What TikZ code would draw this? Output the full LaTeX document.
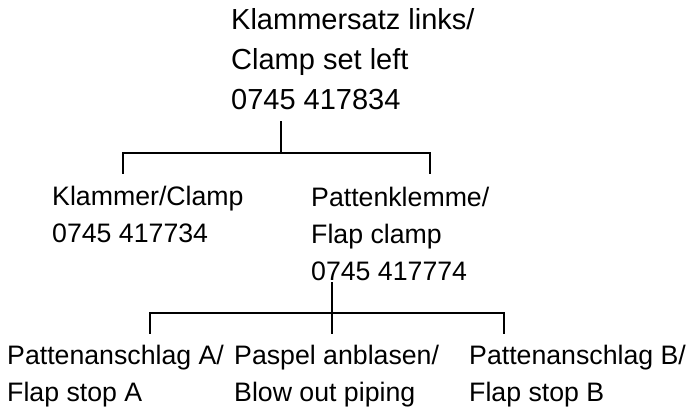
\documentclass[tikz,border=0pt]{standalone}
\usepackage{fontspec}
\setmainfont{Liberation Sans}
\usetikzlibrary{positioning}

\tikzset{
  part/.style={anchor=base west,inner sep=0pt,align=left,
    font=\fontsize{26.7}{37}\selectfont},
  toppart/.style={part,font=\fontsize{29}{40}\selectfont},
  tree/.style={line width=2.6pt,line cap=rect,line join=miter}
}

\begin{document}
\begin{tikzpicture}[x=1pt,y=1pt]
\path[use as bounding box] (0,0) rectangle (686,-409);
% parts (anchored at the last line)
\node[toppart] (set) at (231,-110) {Klammersatz links/\\Clamp set left\\0745 417834};
\node[part] (clamp) at (52,-243) {Klammer/Clamp\\0745 417734};
\node[part] (flapclamp) at (311,-280) {Pattenklemme/\\Flap clamp\\0745 417774};
\node[part] (stopA) at (7,-401) {Pattenanschlag A/\\Flap stop A};
\node[part] (piping) at (234,-401) {Paspel anblasen/\\Blow out piping};
\node[part] (stopB) at (469,-401) {Pattenanschlag B/\\Flap stop B};
% branch points
\coordinate (j1) at (281,-153);
\coordinate (j1a) at (123,-173);
\coordinate (j1b) at (430,-173);
\coordinate (j2) at (332,-313);
\coordinate (j2a) at (150,-333);
\coordinate (j2c) at (504,-333);
% tree
\draw[tree] (j1 |- set.south) ++(0,-12) -- (j1);
\draw[tree] (j1a) -- (j1a |- j1) -- (j1b |- j1) -- (j1b);
\draw[tree] (j2 |- flapclamp.south) ++(0,-3) -- (j2 |- j2a);
\draw[tree] (j2a) -- (j2a |- j2) -- (j2c |- j2) -- (j2c);
\end{tikzpicture}
\end{document}
